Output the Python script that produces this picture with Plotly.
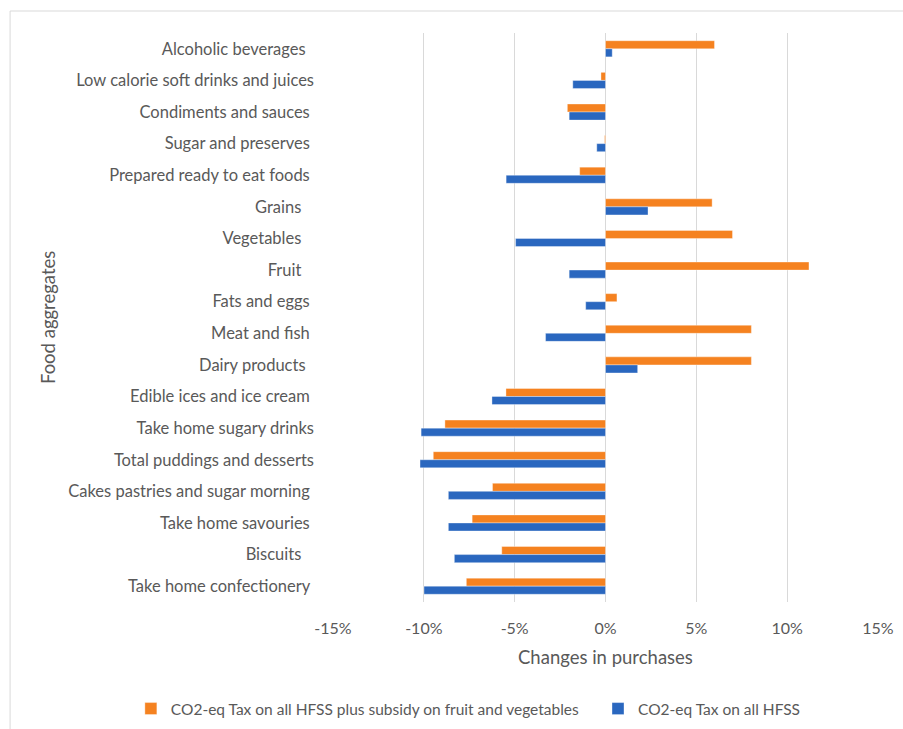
import plotly.graph_objects as go

NB = "\u00a0"
categories = [
    "Alcoholic beverages" + NB * 2,
    "Low calorie soft drinks and juices",
    "Condiments and sauces" + NB,
    "Sugar and preserves" + NB,
    "Prepared ready to eat foods" + NB,
    "Grains" + NB * 3,
    "Vegetables" + NB * 3,
    "Fruit" + NB * 3,
    "Fats and eggs" + NB,
    "Meat and fish" + NB,
    "Dairy products" + NB * 2,
    "Edible ices and ice cream" + NB,
    "Take home sugary drinks",
    "Total puddings and desserts",
    "Cakes pastries and sugar morning" + NB,
    "Take home savouries" + NB,
    "Biscuits" + NB * 3,
    "Take home confectionery" + NB,
]

tax_subsidy = [6.0, -0.25, -2.1, -0.05, -1.42, 5.87, 6.99, 11.2, 0.63, 8.03, 8.03,
               -5.48, -8.84, -9.48, -6.22, -7.34, -5.71, -7.66]
tax_only = [0.37, -1.8, -2.0, -0.48, -5.47, 2.34, -4.95, -2.0, -1.09, -3.3, 1.77,
            -6.25, -10.15, -10.21, -8.65, -8.65, -8.32, -9.99]

series_names = ["CO2-eq Tax on all HFSS plus subsidy on fruit and vegetables",
                "CO2-eq Tax on all HFSS"]
colors = ["#F58220", "#2A67BF"]

x_ticks = [-0.15, -0.10, -0.05, 0.0, 0.05, 0.10, 0.15]
x_ticktext = ["-15%", "-10%", "-5%", "0%", "5%", "10%", "15%"]

FONT = "Lato, Calibri, Carlito, sans-serif"
GREY = "#595959"

L, R, T, B = 332.5, 878.5, 33, 602
PW, PH = R - L, B - T

fig = go.Figure()
for name, vals, col, lg in zip(series_names, [tax_subsidy, tax_only], colors,
                               ["legend", "legend2"]):
    fig.add_trace(go.Bar(
        y=categories, x=[v / 100 for v in vals], name=name, orientation="h",
        legend=lg,
        marker=dict(color=col, line=dict(color="rgba(255,255,255,0.6)", width=0.6)),
    ))

legend_common = dict(orientation="h", xanchor="left", y=(B - 709) / PH, yanchor="middle",
                     font=dict(size=15.5, color=GREY), bgcolor="rgba(0,0,0,0)")

fig.update_layout(
    width=903, height=729,
    margin=dict(l=L, r=903 - R, t=T, b=729 - B, autoexpand=False),
    paper_bgcolor="white", plot_bgcolor="white",
    barmode="group", bargap=0.49, bargroupgap=0,
    font=dict(family=FONT, size=16, color=GREY),
    showlegend=True,
    legend=dict(x=(130 - L) / PW, **legend_common),
    legend2=dict(x=(598 - L) / PW, **legend_common),
    xaxis=dict(range=[-0.15, 0.15], tickvals=x_ticks, ticktext=x_ticktext,
               showgrid=True, gridcolor="#D9D9D9", gridwidth=1,
               zeroline=True, zerolinecolor="#D9D9D9", zerolinewidth=1,
               showline=False, ticks="", ticklabelstandoff=15,
               tickfont=dict(size=16, color=GREY)),
    yaxis=dict(autorange="reversed", showgrid=False, showline=False, ticks="",
               ticklabelstandoff=18, tickfont=dict(size=16.5, color=GREY)),
    annotations=[
        dict(text="Changes in purchases", xref="paper", yref="paper",
             x=(605 - L) / PW, y=(B - 657) / PH, xanchor="center", yanchor="middle",
             showarrow=False, font=dict(size=18.5, color=GREY)),
        dict(text="Food aggregates", xref="paper", yref="paper",
             x=(47 - L) / PW, y=(B - 318) / PH, textangle=-90,
             xanchor="center", yanchor="middle", showarrow=False,
             font=dict(size=18.5, color=GREY)),
    ],
    shapes=[dict(type="rect", xref="paper", yref="paper",
                 x0=(9 - L) / PW, x1=(915 - L) / PW,
                 y0=(B - 745) / PH, y1=1 + (T - 11) / PH,
                 line=dict(color="#D9D9D9", width=1), layer="below")],
)

fig.write_html("out.html", config={"displayModeBar": False},
               post_script="document.body.style.margin='0';")
